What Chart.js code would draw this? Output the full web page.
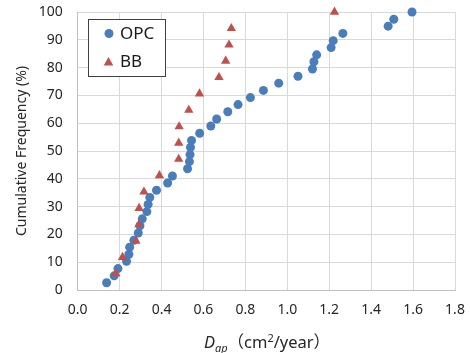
<!DOCTYPE html>
<html>
<head>
<meta charset="utf-8">
<script src="https://cdn.jsdelivr.net/npm/chart.js@4"></script>
<style>
  html, body { margin: 0; padding: 0; background: #fff; }
  #wrap { position: relative; width: 470px; height: 353px; }
  #xTitle {
    position: absolute; left: 0; width: 534px; top: 331px;
    text-align: center; font-family: "Noto Sans", "Noto Sans CJK JP", sans-serif;
    font-size: 16.5px; color: #262626; line-height: 20px; white-space: nowrap;
  }
  #xTitle sub { font-size: 11px; vertical-align: -4px; line-height: 0; }
  #xTitle sup { font-size: 11px; vertical-align: 6px; line-height: 0; }
  .paren { font-family: "Noto Sans CJK JP", sans-serif; }
</style>
</head>
<body>
<div id="wrap">
  <canvas id="cumChart" width="470" height="353"></canvas>
  <div id="xTitle"><i>D</i><sub><i>ap</i></sub><span class="paren">（</span>cm<sup>2</sup>/year<span class="paren">）</span></div>
</div>
<script>
// OPC: apparent diffusion coefficient (cm2/year) vs cumulative frequency (%)
const opcDap = [0.138, 0.174, 0.192, 0.233, 0.244, 0.248, 0.268, 0.289, 0.297, 0.308,
                0.330, 0.336, 0.344, 0.376, 0.429, 0.452, 0.524, 0.533, 0.536, 0.538,
                0.543, 0.582, 0.635, 0.663, 0.716, 0.765, 0.824, 0.886, 0.959, 1.051,
                1.120, 1.127, 1.140, 1.209, 1.219, 1.265, 1.481, 1.508, 1.595];
const opcFreq = [2.6, 5.1, 7.7, 10.3, 12.8, 15.4, 17.9, 20.5, 23.1, 25.6,
                 28.2, 30.8, 33.3, 35.9, 38.5, 41.0, 43.6, 46.2, 48.7, 51.3,
                 53.8, 56.4, 59.0, 61.5, 64.1, 66.7, 69.2, 71.8, 74.4, 76.9,
                 79.5, 82.1, 84.6, 87.2, 89.7, 92.3, 94.9, 97.4, 100];

// BB
const bbDap = [0.182, 0.214, 0.278, 0.292, 0.293, 0.316, 0.390, 0.482, 0.482,
               0.484, 0.530, 0.581, 0.674, 0.706, 0.722, 0.733, 1.225];
const bbFreq = [5.9, 11.8, 17.6, 23.5, 29.4, 35.3, 41.2, 47.1, 52.9,
                58.8, 64.7, 70.6, 76.5, 82.4, 88.2, 94.1, 100];

const xTicks = [0, 0.2, 0.4, 0.6, 0.8, 1.0, 1.2, 1.4, 1.6, 1.8];
const yTicks = [0, 10, 20, 30, 40, 50, 60, 70, 80, 90, 100];

const BLUE = '#4a7ebb';
const RED = '#c0504d';
const FONT = '"Noto Sans", sans-serif';

const toPoints = (xs, ys) => xs.map((x, i) => ({ x, y: ys[i] }));

// legend box sitting inside the plot area, top-left
const innerLegend = {
    id: 'innerLegend',
    afterDraw(chart) {
        const ctx = chart.ctx;
        const x = 88.5, y = 19.5, w = 77, h = 57;
        ctx.save();
        ctx.fillStyle = '#fff';
        ctx.fillRect(x, y, w, h);
        ctx.strokeStyle = '#404040';
        ctx.lineWidth = 1;
        ctx.strokeRect(x, y, w, h);

        ctx.fillStyle = BLUE;
        ctx.beginPath();
        ctx.arc(109, 33.5, 4.5, 0, Math.PI * 2);
        ctx.fill();

        ctx.fillStyle = RED;
        ctx.beginPath();
        ctx.moveTo(108.5, 57);
        ctx.lineTo(113.3, 65.5);
        ctx.lineTo(103.7, 65.5);
        ctx.closePath();
        ctx.fill();

        ctx.fillStyle = '#1a1a1a';
        ctx.font = '17px ' + FONT;
        ctx.textBaseline = 'middle';
        ctx.textAlign = 'left';
        ctx.fillText('OPC', 120, 34);
        ctx.fillText('BB', 120, 62);
        ctx.restore();
    }
};

// pin the plot area: no extra room reserved for overhanging tick labels
const noOverhang = scale => {
    scale.paddingTop = 0;
    scale.paddingBottom = 0;
    scale.paddingLeft = 0;
    scale.paddingRight = 0;
};

new Chart(document.getElementById('cumChart'), {
    type: 'scatter',
    data: {
        datasets: [{
            label: 'OPC',
            data: toPoints(opcDap, opcFreq),
            pointStyle: 'circle',
            pointRadius: 4.5,
            backgroundColor: BLUE,
            borderColor: BLUE,
            borderWidth: 0,
            clip: false,
            order: 1
        }, {
            label: 'BB',
            data: toPoints(bbDap, bbFreq),
            pointStyle: 'triangle',
            pointRadius: 5.4,
            backgroundColor: RED,
            borderColor: RED,
            borderWidth: 0,
            clip: false,
            order: 0
        }]
    },
    options: {
        responsive: false,
        animation: false,
        layout: { padding: { left: 0, top: 12, right: 15, bottom: 0 } },
        plugins: {
            legend: { display: false },
            tooltip: { enabled: false }
        },
        scales: {
            x: {
                type: 'linear',
                min: 0,
                max: 1.8,
                afterBuildTicks: scale => { scale.ticks = xTicks.map(v => ({ value: v })); },
                afterFit: scale => { scale.height = 63; noOverhang(scale); },
                ticks: {
                    callback: v => v.toFixed(1),
                    color: '#262626',
                    font: { family: FONT, size: 14 },
                    padding: 12,
                    maxRotation: 0
                },
                grid: { color: '#d9d9d9', drawTicks: false },
                border: { color: '#bfbfbf' }
            },
            y: {
                type: 'linear',
                min: 0,
                max: 100,
                afterBuildTicks: scale => { scale.ticks = yTicks.map(v => ({ value: v })); },
                afterFit: scale => { scale.width = 77.7; noOverhang(scale); },
                ticks: {
                    color: '#262626',
                    font: { family: FONT, size: 14 },
                    padding: 15
                },
                title: {
                    display: true,
                    text: 'Cumulative Frequency (%)',
                    color: '#262626',
                    font: { family: FONT, size: 14 },
                    padding: { top: 14, bottom: 0 }
                },
                grid: { color: '#d9d9d9', drawTicks: false },
                border: { color: '#bfbfbf' }
            }
        }
    },
    plugins: [innerLegend]
});
</script>
</body>
</html>
